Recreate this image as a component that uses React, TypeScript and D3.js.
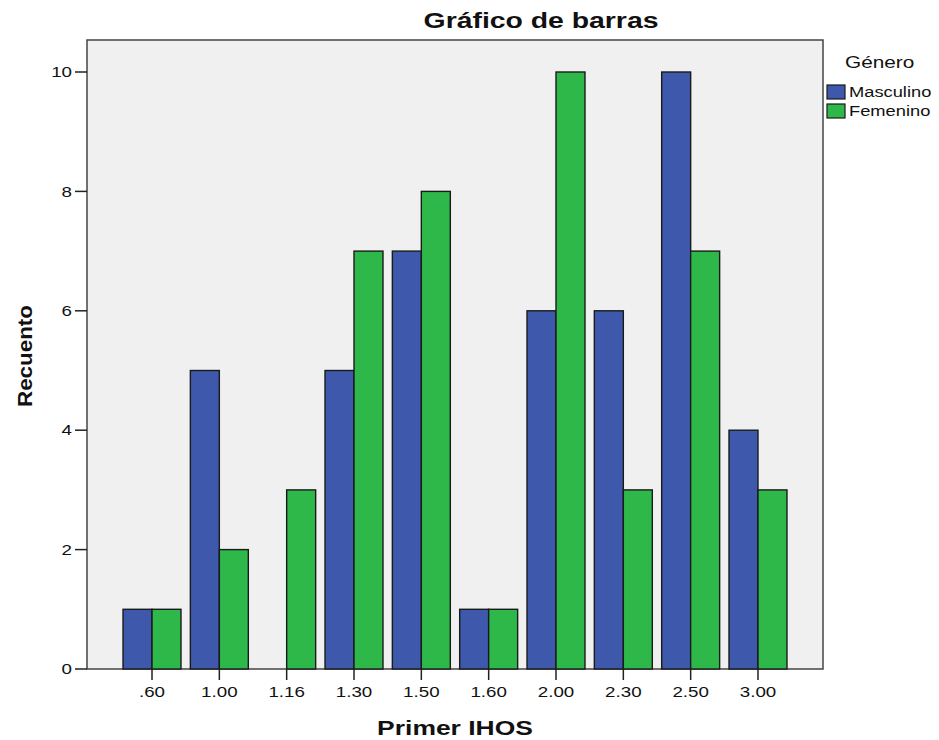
import * as d3 from 'd3';

const categories = ['.60', '1.00', '1.16', '1.30', '1.50', '1.60', '2.00', '2.30', '2.50', '3.00'];
const masculino = [1, 5, 0, 5, 7, 1, 6, 6, 10, 4];
const femenino = [1, 2, 3, 7, 8, 1, 10, 3, 7, 3];
const yTicks = [0, 2, 4, 6, 8, 10];
const seriesNames = ['Masculino', 'Femenino'];
const seriesColors = ['#3e58ac', '#2eb84a'];

const W = 939;
const H = 740;
const plot = { left: 87, right: 823, top: 40, bottom: 669 };
const FONT = 'Liberation Sans, Arial, sans-serif';

// SPSS output renders text a bit wider than Arial, so stretch horizontally
function Txt({ x, y, sx = 1.25, rotate = 0, anchor = 'start', size, bold = false, dy, children }: any) {
  return (
    <g transform={`translate(${x},${y}) rotate(${rotate}) scale(${sx},1)`}>
      <text textAnchor={anchor} fontSize={size} fontWeight={bold ? 'bold' : 'normal'} dy={dy} fill="#111">
        {children}
      </text>
    </g>
  );
}

export default function App() {
  const x = d3.scaleBand<string>()
    .domain(categories)
    .range([plot.left, plot.right])
    .paddingInner(0.139)
    .paddingOuter(0.535);

  const sub = d3.scaleBand<string>()
    .domain(seriesNames)
    .range([0, x.bandwidth()]);

  const y = d3.scaleLinear()
    .domain([0, 10])
    .range([plot.bottom, plot.bottom - 597]);

  const series = [masculino, femenino];

  return (
    <svg width={W} height={H} style={{ position: 'absolute', left: 0, top: 0 }} fontFamily={FONT}>
      <rect x={0} y={0} width={W} height={H} fill="#ffffff" />
      <Txt x={541} y={28} anchor="middle" size={22} bold sx={1.29}>Gráfico de barras</Txt>

      <rect
        x={plot.left}
        y={plot.top}
        width={plot.right - plot.left}
        height={plot.bottom - plot.top}
        fill="#f0f0f0"
        stroke="#444"
        strokeWidth={1.5}
      />

      {series.map((vals, si) =>
        categories.map((c, i) => {
          const v = vals[i];
          if (v === 0) return null;
          const bx = (x(c) as number) + (sub(seriesNames[si]) as number);
          return (
            <rect
              key={`${si}-${c}`}
              x={bx}
              y={y(v)}
              width={sub.bandwidth()}
              height={y(0) - y(v)}
              fill={seriesColors[si]}
              stroke="#1a1a1a"
              strokeWidth={1.4}
            />
          );
        })
      )}

      {/* y axis */}
      {yTicks.map((t) => (
        <g key={t}>
          <line x1={plot.left - 12} x2={plot.left} y1={y(t)} y2={y(t)} stroke="#222" strokeWidth={1.5} />
          <Txt x={plot.left - 15} y={y(t)} dy="0.35em" anchor="end" size={15}>{t}</Txt>
        </g>
      ))}

      {/* x axis */}
      {categories.map((c) => {
        const cx = (x(c) as number) + x.bandwidth() / 2;
        return (
          <g key={c}>
            <line x1={cx} x2={cx} y1={plot.bottom} y2={plot.bottom + 11} stroke="#222" strokeWidth={1.5} />
            <Txt x={cx} y={plot.bottom + 28} anchor="middle" size={15}>{c}</Txt>
          </g>
        );
      })}

      <Txt x={455} y={735} anchor="middle" size={21} bold sx={1.26}>Primer IHOS</Txt>
      <Txt x={32} y={356} rotate={-90} anchor="middle" size={20} bold sx={1.12}>Recuento</Txt>

      {/* legend */}
      <Txt x={845} y={68} size={16} sx={1.3}>Género</Txt>
      {seriesNames.map((n, i) => (
        <g key={n} transform={`translate(827, ${85 + i * 19})`}>
          <rect x={0} y={0} width={18} height={14} fill={seriesColors[i]} stroke="#1a1a1a" strokeWidth={1.2} />
          <Txt x={22} y={7} dy="0.35em" size={15} sx={1.22}>{n}</Txt>
        </g>
      ))}
    </svg>
  );
}
